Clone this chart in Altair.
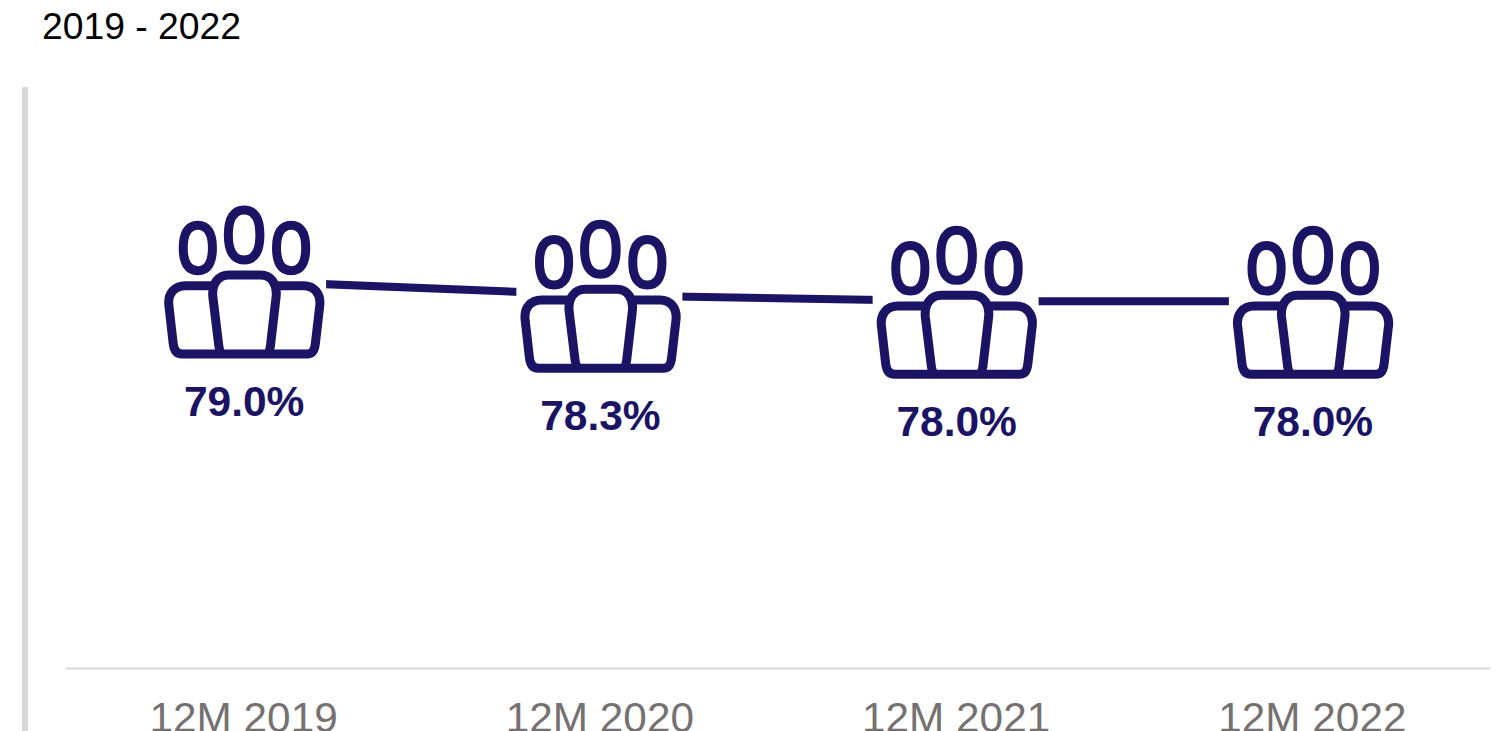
import altair as alt
import pandas as pd

periods = ["12M 2019", "12M 2020", "12M 2021", "12M 2022"]
values = [79.0, 78.3, 78.0, 78.0]
labels = ["79.0%", "78.3%", "78.0%", "78.0%"]
subtitle = "2019 - 2022"

NAVY = "#1b1464"
GREY = "#d9d9d9"
FONT = "Liberation Sans"


def head(cx, cy, rx, ry, k=0.66):
    return (
        f"M{cx},{cy - ry}"
        f"C{cx + k * rx},{cy - ry} {cx + rx},{cy - k * ry} {cx + rx},{cy}"
        f"C{cx + rx},{cy + k * ry} {cx + k * rx},{cy + ry} {cx},{cy + ry}"
        f"C{cx - k * rx},{cy + ry} {cx - rx},{cy + k * ry} {cx - rx},{cy}"
        f"C{cx - rx},{cy - k * ry} {cx - k * rx},{cy - ry} {cx},{cy - ry}Z"
    )


OUTER = (
    "M-30.3,3.7L-58.7,3.7C-70,3.7 -76.5,12 -75.3,23L-71,61C-70.2,69 -67,72 -62,72"
    "L63,72C68,72 70.5,69 71.3,61L75.7,23C76.8,12 70,3.7 59.7,3.7L31.3,3.7"
)
CENTRE = (
    "M-20,72C-23,72 -24.7,69 -25.3,64L-31.3,14.7C-32.5,2 -26,-7 -15.3,-7L16.3,-7"
    "C27,-7 33.3,2 32,14.7L26.3,64C25.7,69 24,72 21.3,72"
)
ICON = " ".join(
    [head(0, -47, 15.8, 25), head(-46.3, -34, 14.6, 22.8), head(47, -34, 14.6, 22.8), OUTER, CENTRE]
)

df = pd.DataFrame({"period": periods, "value": values, "label": labels})

x = alt.X(
    "period:N",
    sort=periods,
    title=None,
    scale=alt.Scale(paddingInner=0, paddingOuter=0, align=0.5),
    axis=alt.Axis(
        labelAngle=0,
        labelFont=FONT,
        labelFontSize=42.3,
        labelColor="#767171",
        labelPadding=63,
        labelBaseline="alphabetic",
        labelLimit=0,
        domainColor=GREY,
        domainWidth=2,
        ticks=False,
        grid=False,
    ),
)
y = alt.Y("value:Q", scale=alt.Scale(domain=[60, 88.52], nice=False, zero=False), axis=None)

base = alt.Chart(df).encode(x=x, y=y)

line = base.mark_line(color=NAVY, strokeWidth=8)
mask = base.mark_point(shape="square", size=27556, filled=True, color="white", opacity=1)
icons = base.mark_point(
    shape=ICON,
    size=4,
    filled=False,
    stroke=NAVY,
    strokeWidth=9,
    opacity=1,
    strokeJoin="round",
    xOffset=1,
    yOffset=1,
)
text = base.mark_text(
    font=FONT, fontSize=42.5, fontWeight="bold", color=NAVY, dx=1, dy=122, baseline="middle"
).encode(text="label:N")
side_bar = (
    alt.Chart(df)
    .mark_rule(color=GREY, strokeWidth=6)
    .encode(x=alt.value(-40), y=alt.value(0), y2=alt.value(660))
)

chart = (
    alt.layer(side_bar, line, mask, icons, text)
    .properties(
        width=1425,
        height=581,
        background="white",
        padding={"left": 57, "top": 79, "right": 5, "bottom": 75},
        autosize=alt.AutoSizeParams(type="none"),
        title=alt.TitleParams(
            subtitle,
            anchor="start",
            dx=20,
            offset=37,
            font=FONT,
            fontSize=37.3,
            fontWeight="normal",
            color="#000000",
        ),
    )
    .configure_view(strokeWidth=0, stroke="transparent")
)

chart.save("out.html", embed_options={"renderer": "svg", "actions": False})
